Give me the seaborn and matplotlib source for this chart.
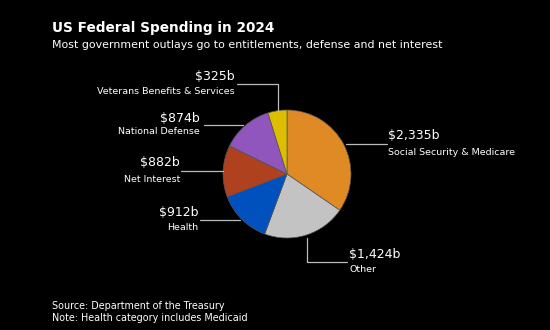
import matplotlib
matplotlib.use("Agg")
import matplotlib.pyplot as plt
import seaborn as sns
import pandas as pd

categories = ["Social Security & Medicare", "Other", "Health", "Net Interest",
              "National Defense", "Veterans Benefits & Services"]
values = [2335, 1424, 912, 882, 874, 325]
value_labels = ["$2,335b", "$1,424b", "$912b", "$882b", "$874b", "$325b"]
colors = ["#E08A25", "#C3C3C3", "#0050BE", "#B0411F", "#9156BE", "#DDBE00"]

df = pd.DataFrame({"category": categories, "value": values})

sns.set_theme(style="dark")
plt.rcParams['font.family'] = ['DejaVu Sans']

W, H = 550, 330
fig = plt.figure(figsize=(W / 100, H / 100), dpi=100, facecolor="black")

def fx(x):
    return x / W

def fy(y):
    return 1 - y / H

# pie axes (square in pixels)
cx, cy, r = 287, 174, 64
ax = fig.add_axes([fx(cx - r), fy(cy + r), 2 * r / W, 2 * r / H])
ax.set_facecolor("black")
ax.pie(df["value"], colors=colors, startangle=90, counterclock=False,
       wedgeprops=dict(edgecolor="#555555", linewidth=0.5), radius=1.0)
ax.set_xlim(-1, 1)
ax.set_ylim(-1, 1)
ax.set_aspect("equal")
ax.axis("off")

# title & subtitle
fig.text(fx(52), fy(28), "US Federal Spending in 2024", color="white",
         fontsize=9.8, fontweight="bold", va="center", ha="left")
fig.text(fx(52), fy(45), "Most government outlays go to entitlements, defense and net interest",
         color="white", fontsize=7.95, va="center", ha="left")

# leader lines (pixel coords)
lc = "#BBBBBB"
def line(xs, ys):
    fig.add_artist(plt.Line2D([fx(x) for x in xs], [fy(y) for y in ys],
                              color=lc, linewidth=0.9))

# label positions: (x, y_value, y_name, ha)
label_pos = [
    (388, 135, 152, "left"),
    (349, 255, 269, "left"),
    (198, 213, 227, "right"),
    (180, 163, 179, "right"),
    (200, 118, 132, "right"),
    (235, 76, 91, "right"),
]
for (x, yv, yn, ha), vl, name in zip(label_pos, value_labels, categories):
    fig.text(fx(x), fy(yv), vl, color="white", fontsize=9, ha=ha, va="center")
    fig.text(fx(x), fy(yn), name, color="white", fontsize=6.8, ha=ha, va="center")

line([346, 387], [144, 144])
line([307, 307, 347], [238, 262, 262])
line([200, 240], [220, 220])
line([181, 223], [171, 171])
line([204, 243], [125, 125])
line([237, 278, 278], [84, 84, 111])

# footer
fig.text(fx(52), fy(306), "Source: Department of the Treasury", color="white",
         fontsize=6.9, ha="left", va="center")
fig.text(fx(52), fy(318), "Note: Health category includes Medicaid", color="white",
         fontsize=6.9, ha="left", va="center")

fig.savefig("out.png", dpi=100, facecolor="black")
